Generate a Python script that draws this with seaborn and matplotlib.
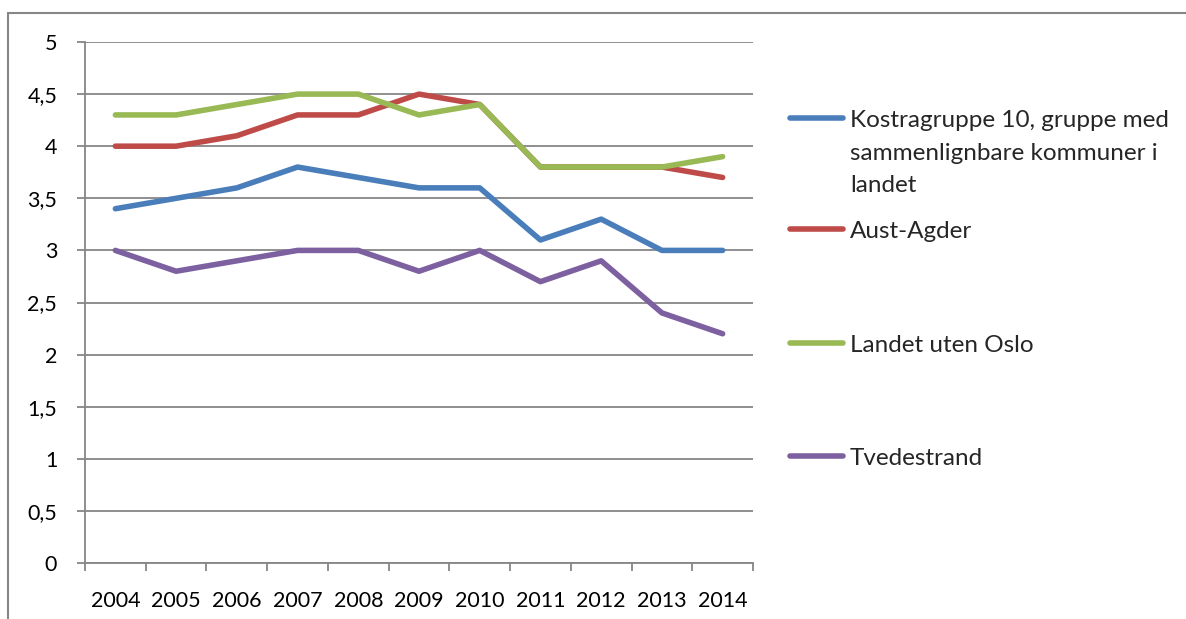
import matplotlib
matplotlib.use("Agg")
import matplotlib.pyplot as plt
from matplotlib.lines import Line2D
from matplotlib.ticker import FixedLocator, FuncFormatter
import seaborn as sns
import pandas as pd

years = ["2004", "2005", "2006", "2007", "2008", "2009", "2010", "2011", "2012", "2013", "2014"]
kostra = [3.4, 3.5, 3.6, 3.8, 3.7, 3.6, 3.6, 3.1, 3.3, 3.0, 3.0]
aust_agder = [4.0, 4.0, 4.1, 4.3, 4.3, 4.5, 4.4, 3.8, 3.8, 3.8, 3.7]
landet_uten_oslo = [4.3, 4.3, 4.4, 4.5, 4.5, 4.3, 4.4, 3.8, 3.8, 3.8, 3.9]
tvedestrand = [3.0, 2.8, 2.9, 3.0, 3.0, 2.8, 3.0, 2.7, 2.9, 2.4, 2.2]
series_names = ["Kostragruppe 10, gruppe med sammenlignbare kommuner i landet",
                "Aust-Agder", "Landet uten Oslo", "Tvedestrand"]
colors = ["#4A7EBB", "#BE4B48", "#98B954", "#7D60A0"]

rows = []
for name, vals in zip(series_names, [kostra, aust_agder, landet_uten_oslo, tvedestrand]):
    for i, (y, v) in enumerate(zip(years, vals)):
        rows.append({"idx": i, "year": y, "value": v, "series": name})
df = pd.DataFrame(rows)

sns.set_style("white")
plt.rcParams["font.family"] = ["Lato", "DejaVu Sans"]

fig = plt.figure(figsize=(11.86, 6.19), dpi=100)
ax = fig.add_axes([85 / 1186, 1 - 563 / 619, (753 - 85) / 1186, (563 - 42) / 619])

sns.lineplot(data=df, x="idx", y="value", hue="series", hue_order=series_names,
             palette=colors, linewidth=4, ax=ax, legend=True, solid_capstyle="round")

ax.set_xlim(-0.5, len(years) - 0.5)
ax.set_ylim(0, 5)
ax.set_xlabel("")
ax.set_ylabel("")

grid_c = "#868686"
ax.set_yticks([0, 0.5, 1, 1.5, 2, 2.5, 3, 3.5, 4, 4.5, 5])
ax.yaxis.set_major_formatter(FuncFormatter(lambda v, p: (("%g" % v).replace(".", ","))))
ax.yaxis.grid(True, color=grid_c, linewidth=1.3)
ax.xaxis.grid(False)
ax.set_axisbelow(True)

ax.set_xticks(range(len(years)))
ax.set_xticklabels(years)
ax.xaxis.set_minor_locator(FixedLocator([i - 0.5 for i in range(len(years) + 1)]))
ax.tick_params(axis="x", which="major", length=0, pad=20, labelsize=15.5, labelcolor="black")
ax.tick_params(axis="x", which="minor", length=6, width=1.3, color=grid_c, direction="out")
ax.tick_params(axis="y", which="major", length=6, width=1.3, color=grid_c, direction="out",
               pad=14, labelsize=15.5, labelcolor="black")
ax.yaxis.set_ticks_position("left")
ax.xaxis.set_ticks_position("bottom")

for s in ["top", "right"]:
    ax.spines[s].set_visible(False)
for s in ["left", "bottom"]:
    ax.spines[s].set_color(grid_c)
    ax.spines[s].set_linewidth(1.3)

handles, labels = ax.get_legend_handles_labels()
ax.get_legend().remove()

leg_fs = 17.5
legend_labels = ["Kostragruppe 10, gruppe med", "Aust-Agder", "Landet uten Oslo", "Tvedestrand"]
legend_y = [120, 231, 345, 458]
for h, lab, yy in zip(handles, legend_labels, legend_y):
    lg = fig.legend([h], [lab], loc="center left",
                    bbox_to_anchor=(790 / 1186, 1 - yy / 619), frameon=False,
                    fontsize=leg_fs, handlelength=2.2, handletextpad=0.25,
                    borderpad=0, borderaxespad=0)
    for line in lg.get_lines():
        line.set_linewidth(4)
        line.set_solid_capstyle("round")
for txt, yy in [("sammenlignbare kommuner i", 153), ("landet", 185)]:
    fig.text(850 / 1186, 1 - yy / 619, txt, fontsize=leg_fs, va="center", ha="left")

fig.add_artist(Line2D([8 / 1186, 8 / 1186], [0, 1 - 13 / 619], color=grid_c, linewidth=1.5))
fig.add_artist(Line2D([8 / 1186, 1], [1 - 13 / 619, 1 - 13 / 619], color=grid_c, linewidth=1.5))

fig.savefig("out.png", dpi=100)
